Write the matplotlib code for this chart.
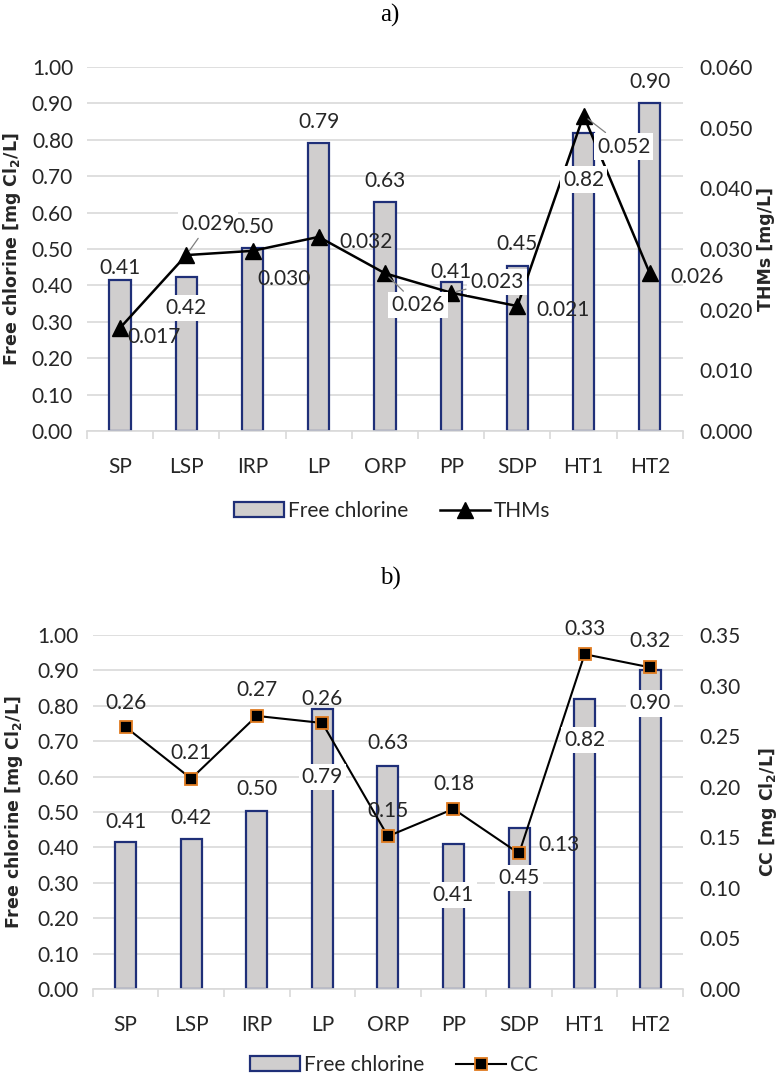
import numpy as np
import matplotlib
matplotlib.use("Agg")
import matplotlib.pyplot as plt
from matplotlib.lines import Line2D
from matplotlib.patches import Patch

# --- data ---
sites = ["SP", "LSP", "IRP", "LP", "ORP", "PP", "SDP", "HT1", "HT2"]
free_cl = [0.415, 0.423, 0.502, 0.79, 0.63, 0.41, 0.454, 0.82, 0.90]
thms = [0.017, 0.029, 0.0297, 0.032, 0.026, 0.0228, 0.0206, 0.052, 0.026]
cc = [0.259, 0.208, 0.27, 0.263, 0.151, 0.178, 0.134, 0.331, 0.318]

# --- styles ---
plt.rcParams['font.family'] = ['Lato', 'DejaVu Sans']
FS = 15
YL = 12.5
TXT = '#262626'
GRID = '#d9d9d9'
BAR_FC = '#d0cece'
BAR_EC = '#1f2f78'
ORANGE = '#e07b20'

# label offsets in pixels (dx, dy, white box?)
top_bar_off = [(0, 12, 0), (0, -31, 1), (0, 21, 0), (0, 21, 0), (0, 21, 0),
               (0, 10, 0), (0, 22, 0), (0, -47, 1), (0, 21, 0)]
top_thm_off = [(34, -9, 0), (22, 31, 1), (32, -28, 0), (47, -5, 0), (33, -32, 1),
               (46, 11, 1), (46, -4, 0), (40, -31, 1), (47, -4, 0)]
bot_bar_off = [(0, 20, 0), (0, 21, 0), (0, 22, 0), (0, -68, 1), (0, 23, 0),
               (0, -51, 1), (0, -50, 1), (0, -41, 1), (0, -33, 1)]
bot_cc_off = [(0, 24, 0), (0, 26, 0), (0, 26, 0), (0, 24, 0), (0, 25, 0),
              (0, 25, 0), (40, 8, 0), (0, 25, 0), (0, 26, 0)]

fig = plt.figure(figsize=(7.8, 10.75), dpi=100)
ax1 = fig.add_axes([0.1115, 0.599, 0.764, 0.3387])
ax3 = fig.add_axes([0.119, 0.080, 0.7566, 0.3293])

x = np.arange(len(sites))


def base(ax, ylabel):
    ax.bar(x, free_cl, width=0.32, color=BAR_FC, edgecolor=BAR_EC, linewidth=1.6, zorder=2)
    ax.set_xlim(-0.5, len(sites) - 0.5)
    ax.set_ylim(0, 1.0)
    ax.set_yticks(np.arange(0, 1.01, 0.1))
    ax.set_yticklabels([f"{v:.2f}" for v in np.arange(0, 1.01, 0.1)])
    ax.yaxis.grid(True, color=GRID, lw=1.2, zorder=0)
    ax.set_axisbelow(True)
    for s in ['top', 'left', 'right']:
        ax.spines[s].set_visible(False)
    ax.spines['bottom'].set_color(GRID)
    ax.spines['bottom'].set_linewidth(1.2)
    ax.set_xticks(x)
    ax.set_xticklabels(sites)
    ax.set_xticks(np.arange(-0.5, len(sites), 1.0), minor=True)
    ax.tick_params(axis='x', which='major', length=0, pad=19, labelsize=FS, labelcolor=TXT)
    ax.tick_params(axis='x', which='minor', length=6, color=GRID, width=1.2)
    ax.tick_params(axis='y', length=0, pad=10, labelsize=FS, labelcolor=TXT)
    ax.set_ylabel(ylabel, fontsize=YL, fontweight='bold', family='DejaVu Sans', color=TXT)


def label(axis_on, trans, xi, yi, text, off, leader=False):
    dx, dy, box = off
    kw = {}
    if box:
        kw['bbox'] = dict(boxstyle='square,pad=0.15', fc='white', ec='none')
    if leader:
        kw['arrowprops'] = dict(arrowstyle='-', color='#7f7f7f', lw=0.9, shrinkA=1, shrinkB=4)
    axis_on.annotate(text, (xi, yi), xycoords=trans, xytext=(dx, dy), textcoords='offset pixels',
                     ha='center', va='center', fontsize=FS, color=TXT, zorder=6, **kw)


# --- a) ---
base(ax1, r'Free chlorine [mg Cl$_{\mathbf{2}}$/L]')
ax2 = ax1.twinx()
ax2.plot(x, thms, color='black', lw=1.8, marker='^', ms=11, zorder=4)
ax2.set_ylim(0, 0.06)
ax2.set_yticks(np.arange(0, 0.0601, 0.01))
ax2.set_yticklabels([f"{v:.3f}" for v in np.arange(0, 0.0601, 0.01)])
ax2.tick_params(axis='y', length=0, pad=12, labelsize=FS, labelcolor=TXT)
for s in ['top', 'left', 'right', 'bottom']:
    ax2.spines[s].set_visible(False)
ax2.set_ylabel('THMs [mg/L]', fontsize=YL, fontweight='bold', family='DejaVu Sans', color=TXT)
ax1.yaxis.set_label_coords(-0.108, 0.5)
ax2.yaxis.set_label_coords(1.125, 0.5)

leaders_top = [1, 4, 5, 7]
for i in range(len(sites)):
    label(ax2, ax2.transData, x[i], thms[i], f"{thms[i]:.3f}", top_thm_off[i], i in leaders_top)
for i in range(len(sites)):
    label(ax2, ax1.transData, x[i], free_cl[i], f"{free_cl[i]:.2f}", top_bar_off[i])

h_bar = Patch(facecolor=BAR_FC, edgecolor=BAR_EC, linewidth=1.6)
h_thm = Line2D([], [], color='black', lw=1.8, marker='^', ms=11)
fig.legend([h_bar, h_thm], ['Free chlorine', 'THMs'], loc='center', bbox_to_anchor=(0.503, 1 - 511 / 1075),
           ncol=2, frameon=False, fontsize=FS, handlelength=2.4, handletextpad=0.2, columnspacing=1.5,
           labelcolor=TXT)
fig.text(0.5, 1 - 15 / 1075, 'a)', ha='center', va='center', fontsize=18, family='Liberation Serif')

# --- b) ---
base(ax3, r'Free chlorine [mg Cl$_{\mathbf{2}}$/L]')
ax4 = ax3.twinx()
ax4.plot(x, cc, color='black', lw=1.5, marker='s', ms=9, mfc='black', mec=ORANGE, mew=1.3, zorder=4)
ax4.set_ylim(0, 0.35)
ax4.set_yticks(np.arange(0, 0.351, 0.05))
ax4.set_yticklabels([f"{v:.2f}" for v in np.arange(0, 0.351, 0.05)])
ax4.tick_params(axis='y', length=0, pad=12, labelsize=FS, labelcolor=TXT)
for s in ['top', 'left', 'right', 'bottom']:
    ax4.spines[s].set_visible(False)
ax4.set_ylabel(r'CC [mg Cl$_{\mathbf{2}}$/L]', fontsize=YL, fontweight='bold', family='DejaVu Sans', color=TXT)
ax3.yaxis.set_label_coords(-0.115, 0.5)
ax4.yaxis.set_label_coords(1.126, 0.5)

for i in range(len(sites)):
    label(ax4, ax4.transData, x[i], cc[i], f"{cc[i]:.2f}", bot_cc_off[i])
for i in range(len(sites)):
    label(ax4, ax3.transData, x[i], free_cl[i], f"{free_cl[i]:.2f}", bot_bar_off[i])

h_cc = Line2D([], [], color='black', lw=1.5, marker='s', ms=9, mfc='black', mec=ORANGE, mew=1.3)
fig.legend([h_bar, h_cc], ['Free chlorine', 'CC'], loc='center', bbox_to_anchor=(0.505, 1 - 1065 / 1075),
           ncol=2, frameon=False, fontsize=FS, handlelength=2.4, handletextpad=0.2, columnspacing=1.5,
           labelcolor=TXT)
fig.text(0.5, 1 - 578 / 1075, 'b)', ha='center', va='center', fontsize=18, family='Liberation Serif')

fig.savefig('out.png', dpi=100)
